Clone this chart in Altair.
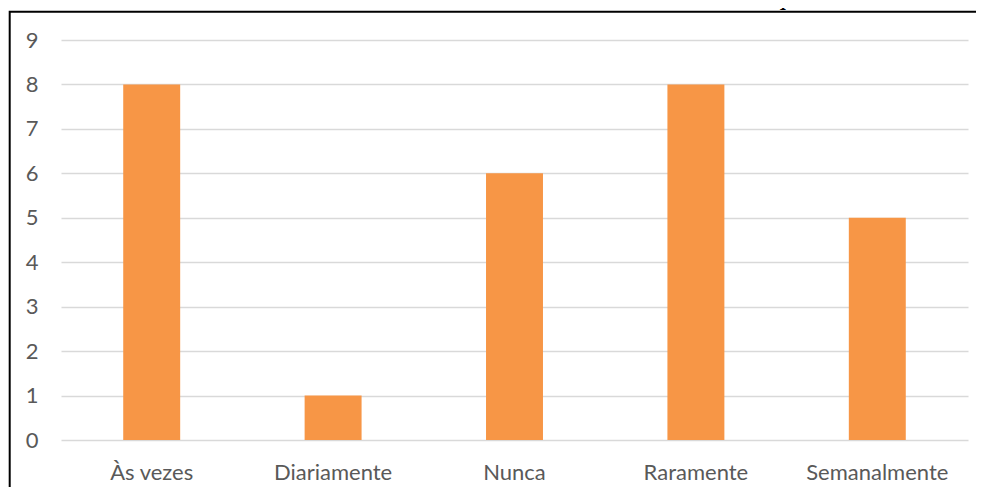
import altair as alt
import pandas as pd

categories = ["Às vezes", "Diariamente", "Nunca", "Raramente", "Semanalmente"]
values = [8, 1, 6, 8, 5]
title_text = "Gráfico 5 - Eu utilizo a biblioteca física da UNIFAL-MG com frequência"

df = pd.DataFrame({"cat": categories, "val": values})

bars = alt.Chart(df).mark_bar(
    color="#F79646", width=alt.RelativeBandSize(0.314)
).encode(
    x=alt.X("cat:N", sort=categories, title=None,
            scale=alt.Scale(paddingInner=0, paddingOuter=0),
            axis=alt.Axis(labelAngle=0, domain=False, ticks=False, tickSize=0,
                          labelPadding=39, labelBaseline="alphabetic",
                          labelFont="Lato", labelFontSize=22, labelColor="#595959",
                          grid=False)),
    y=alt.Y("val:Q", title=None,
            scale=alt.Scale(domain=[0, 9], nice=False),
            axis=alt.Axis(values=list(range(10)), domain=False, ticks=False, tickSize=0,
                          labelPadding=23, labelFont="Lato", labelFontSize=22,
                          labelColor="#595959", gridColor="#D9D9D9", gridWidth=1.5)),
)

frame_df = pd.DataFrame({"a": [0]})
frame = alt.Chart(frame_df).mark_rect(
    filled=False, stroke="black", strokeWidth=2
).encode(
    x=alt.value(-51.3), x2=alt.value(1100), y=alt.value(-28.2), y2=alt.value(600)
)
title = alt.Chart(frame_df).mark_text(
    align="left", baseline="alphabetic", font="Liberation Serif", fontSize=29, color="black"
).encode(
    x=alt.value(-48), y=alt.value(-36.5), text=alt.value(title_text)
)

chart = alt.layer(bars, frame, title).properties(
    width=907, height=400,
    autosize=alt.AutoSizeParams(type="none"),
    padding={"left": 53, "top": 32, "right": 8, "bottom": 47},
    view=alt.ViewBackground(stroke="transparent", strokeWidth=0),
).configure(background="white")

chart.save("out.html", embed_options={"renderer": "svg", "actions": False})
